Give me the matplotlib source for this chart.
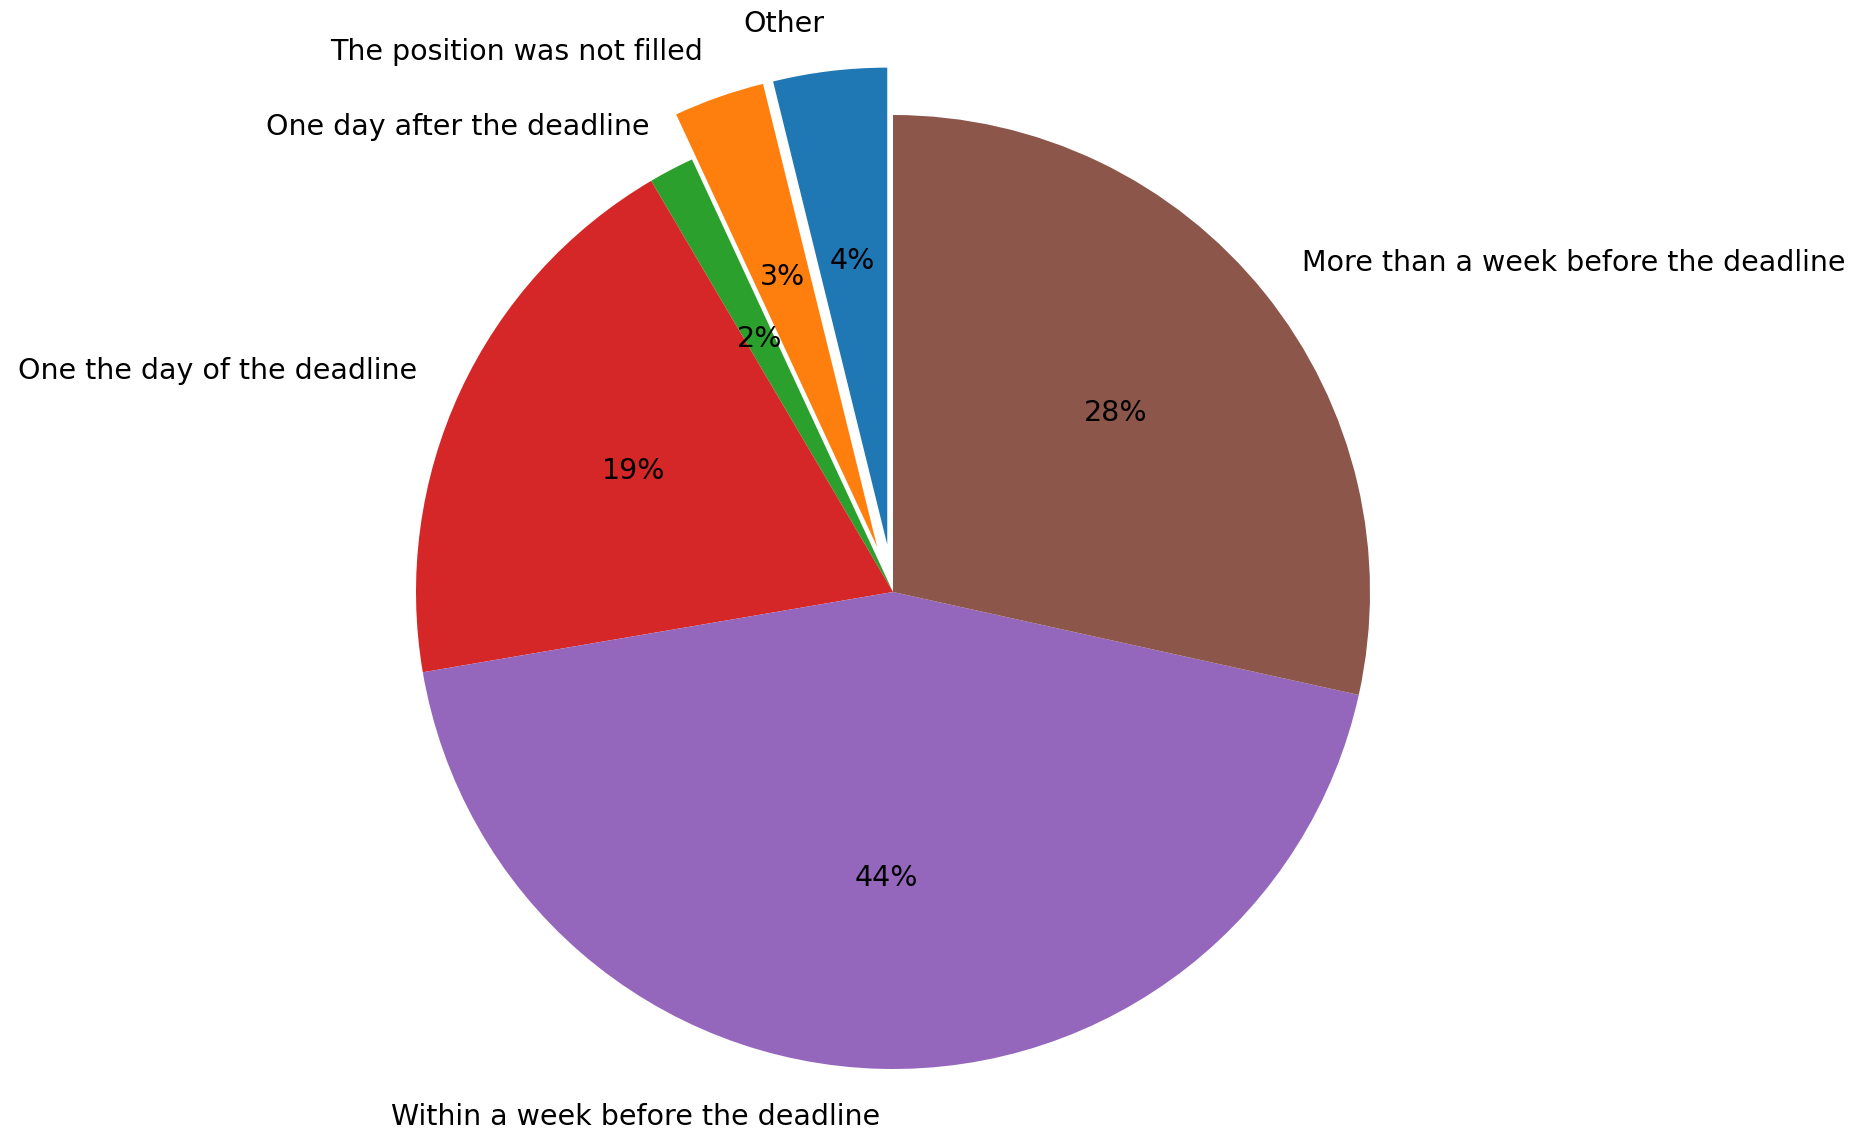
import matplotlib
matplotlib.use("Agg")
import matplotlib.pyplot as plt

labels = ["Other", "The position was not filled", "One day after the deadline",
          "One the day of the deadline", "Within a week before the deadline",
          "More than a week before the deadline"]
counts = [5, 4, 2, 25, 57, 37]
explode = [0.1, 0.1, 0, 0, 0, 0]
colors = ["#1f77b4", "#ff7f0e", "#2ca02c", "#d62728", "#9467bd", "#8c564b"]

fig = plt.figure(figsize=(18.6, 11.31), dpi=100)
ax = fig.add_axes([0, 0, 1, 1])
ax.pie(counts, labels=labels, explode=explode, colors=colors, startangle=90,
       autopct="%1.0f%%", textprops={"fontsize": 20.5})
ax.set_aspect("auto")
cx, cy, r = 893, 592, 477
ax.set_xlim(-cx / r, (1860 - cx) / r)
ax.set_ylim(-(1131 - cy) / r, cy / r)
ax.axis("off")
fig.savefig("out.png", dpi=100)
